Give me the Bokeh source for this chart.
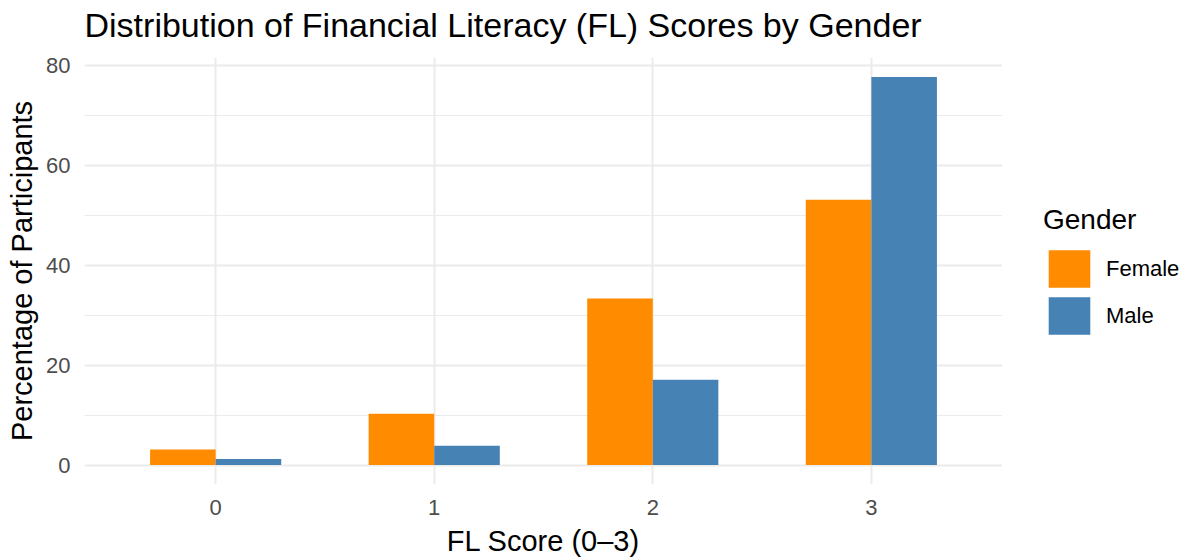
from bokeh.plotting import figure
from bokeh.layouts import row
from bokeh.models import (Range1d, FixedTicker, SingleIntervalTicker, ColumnDataSource,
                          Legend, LegendItem, Title)
from bokeh.transform import dodge
from bokeh.embed import file_html
from bokeh.resources import INLINE

# ---- data ----
scores = [0, 1, 2, 3]
female = [3.1, 10.3, 33.4, 53.2]
male = [1.2, 3.9, 17.1, 77.8]
genders = ["Female", "Male"]
colors = ["#FF8C00", "#4682B4"]
title_text = "Distribution of Financial Literacy (FL) Scores by Gender"
x_label = "FL Score (0\u20133)"
y_label = "Percentage of Participants"
legend_title = "Gender"

FONT = "Liberation Sans"

src = ColumnDataSource(dict(score=scores, Female=female, Male=male))

ymax = max(max(female), max(male))
pad = 0.05 * ymax

# ---- main panel ----
p = figure(width=1002, height=559, output_backend="svg", toolbar_location=None,
           title=None,
           x_range=Range1d(-0.6, 3.6), y_range=Range1d(-pad, ymax + pad),
           min_border_left=84, min_border_right=0, min_border_top=57,
           min_border_bottom=75)

p.vbar(x=dodge("score", -0.15, range=p.x_range), top="Female", width=0.3, source=src,
       fill_color=colors[0], line_color=None)
p.vbar(x=dodge("score", 0.15, range=p.x_range), top="Male", width=0.3, source=src,
       fill_color=colors[1], line_color=None)

# title (a thin spacer keeps it clear of the panel)
p.add_layout(Title(text=" ", text_font_size="1px", standoff=11), "above")
p.add_layout(Title(text=title_text, text_font=FONT, text_font_size="34px",
                   text_font_style="normal", text_color="#000000", align="left",
                   vertical_align="bottom", standoff=0), "above")

# frame
p.outline_line_color = None
p.background_fill_color = "white"
p.border_fill_color = "white"

# axes
p.xaxis.ticker = FixedTicker(ticks=scores)
p.yaxis.ticker = SingleIntervalTicker(interval=20, num_minor_ticks=2)
for ax in (p.xaxis[0], p.yaxis[0]):
    ax.axis_line_color = None
    ax.major_tick_line_color = None
    ax.minor_tick_line_color = None
    ax.major_tick_out = 0
    ax.major_tick_in = 0
    ax.minor_tick_out = 0
    ax.minor_tick_in = 0
    ax.major_label_text_font = FONT
    ax.major_label_text_font_size = "22px"
    ax.major_label_text_color = "#4D4D4D"
    ax.axis_label_text_font = FONT
    ax.axis_label_text_font_size = "29px"
    ax.axis_label_text_font_style = "normal"
    ax.axis_label_text_color = "#000000"

p.xaxis.axis_label = x_label
p.yaxis.axis_label = y_label
p.xaxis.major_label_standoff = 15
p.xaxis.axis_label_standoff = 7
p.yaxis.major_label_standoff = 14
p.yaxis.axis_label_standoff = 5

# grid
p.xgrid.grid_line_color = "#EBEBEB"
p.xgrid.grid_line_width = 2
p.ygrid.grid_line_color = "#EBEBEB"
p.ygrid.grid_line_width = 2
p.ygrid.minor_grid_line_color = "#EBEBEB"
p.ygrid.minor_grid_line_width = 1

# ---- legend panel (key only) ----
q = figure(width=190, height=559, output_backend="svg", toolbar_location=None,
           x_range=Range1d(0, 1), y_range=Range1d(0, 1),
           x_axis_location=None, y_axis_location=None, min_border=0)
q.grid.visible = False
q.outline_line_color = None
q.background_fill_color = "white"
q.border_fill_color = "white"
k_f = q.vbar(x="score", top="Female", width=0.3, source=src,
             fill_color=colors[0], line_color=None, visible=False)
k_m = q.vbar(x="score", top="Male", width=0.3, source=src,
             fill_color=colors[1], line_color=None, visible=False)

lg = Legend(items=[LegendItem(label=genders[0], renderers=[k_f]),
                   LegendItem(label=genders[1], renderers=[k_m])])
lg.title = legend_title
lg.title_text_font = FONT
lg.title_text_font_size = "28px"
lg.title_text_font_style = "normal"
lg.title_text_color = "#000000"
lg.label_text_font = FONT
lg.label_text_font_size = "22px"
lg.label_text_color = "#000000"
lg.location = (41, 145)
lg.margin = 0
lg.padding = 0
lg.glyph_width = 52
lg.glyph_height = 47
lg.spacing = 0
lg.label_standoff = 11
lg.title_standoff = 9
lg.border_line_color = None
lg.background_fill_alpha = 0
q.add_layout(lg)

layout = row(p, q, spacing=0)
open("out.html", "w").write(file_html(layout, INLINE))
